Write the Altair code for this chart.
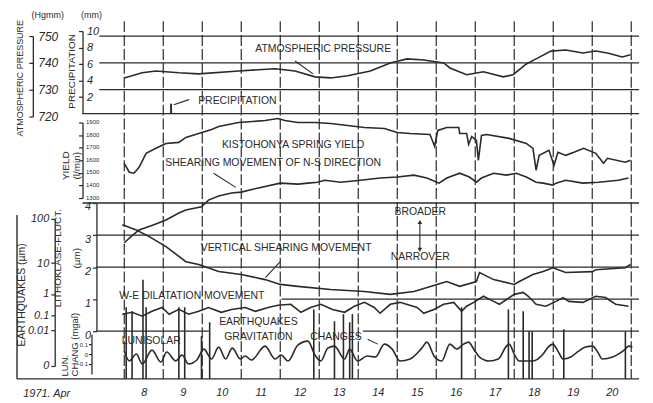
import altair as alt
import pandas as pd

# ---------------- data ----------------
press_day = [8.0, 8.46, 8.81, 9.40, 9.91, 10.93, 11.87, 12.38, 12.89, 13.29, 13.73, 14.31, 14.82, 15.25, 15.68,
             16.19, 16.35, 16.78, 17.21, 17.72, 17.97, 18.31, 18.56, 18.94, 19.32, 19.76, 20.09, 20.39, 20.77, 20.98]
press_val = [734.4, 736.3, 737.0, 736.3, 735.9, 737.0, 737.8, 737.0, 734.8, 734.4, 735.2, 737.0, 740.0, 741.5, 741.1,
             740.0, 738.1, 735.6, 736.7, 734.8, 735.6, 739.6, 741.5, 744.4, 744.8, 743.7, 744.4, 743.7, 742.2, 743.0]

precip_day = [9.2]
precip_val = [1.2]

yield_day = [8.00, 8.13, 8.25, 8.38, 8.56, 8.81, 9.07, 9.40, 9.58, 9.91, 10.24, 10.42, 10.93, 11.61, 11.94,
             12.12, 12.45, 12.89, 13.29, 13.73, 14.16, 14.67, 15.00, 15.33, 15.84, 15.96, 16.04, 16.27, 16.58, 16.60,
             16.78, 16.83, 16.91, 17.03, 17.08, 17.16, 17.29, 17.87, 18.31, 18.48, 18.56, 18.64, 18.89, 19.02, 19.12,
             19.32, 19.53, 19.78, 20.09, 20.29, 20.39, 20.85, 20.98]
yield_val = [1576, 1505, 1497, 1544, 1655, 1695, 1734, 1742, 1782, 1813, 1845, 1868, 1900, 1916, 1932,
             1916, 1900, 1900, 1892, 1876, 1861, 1853, 1821, 1813, 1805, 1710, 1837, 1861, 1861, 1813,
             1813, 1726, 1789, 1758, 1600, 1797, 1805, 1774, 1734, 1695, 1521, 1639, 1679, 1560, 1663,
             1639, 1663, 1695, 1655, 1576, 1616, 1584, 1600]

ns_day = [8.00, 8.20, 8.38, 8.76, 9.07, 9.40, 9.58, 9.98, 10.16, 10.42, 10.75, 11.00, 11.44, 12.00, 12.45,
          12.71, 12.96, 13.14, 13.55, 14.06, 14.56, 15.00, 15.43, 15.76, 16.07, 16.27, 16.60, 16.85, 17.03, 17.16,
          17.47, 17.80, 18.05, 18.31, 18.56, 18.74, 18.99, 19.07, 19.32, 19.76, 20.16, 20.67, 20.93]
ns_val = [2.76, 2.98, 3.16, 3.32, 3.47, 3.69, 3.78, 3.88, 4.09, 4.22, 4.31, 4.34, 4.47, 4.62, 4.59,
          4.62, 4.65, 4.71, 4.65, 4.71, 4.78, 4.81, 4.87, 4.78, 4.62, 4.78, 4.93, 4.81, 4.65, 4.78,
          4.93, 4.87, 4.93, 4.81, 4.65, 4.62, 4.56, 4.62, 4.71, 4.62, 4.65, 4.71, 4.78]

vs_day = [7.95, 8.31, 8.64, 9.07, 9.58, 9.91, 10.42, 11.00, 11.61, 12.00, 12.45, 13.29, 14.16, 14.82, 15.43,
          16.02, 16.27, 16.60, 17.03, 17.11, 17.47, 18.00, 18.13, 18.48, 18.74, 18.99, 19.32, 20.01, 20.09, 20.85, 20.98]
vs_val = [3.32, 3.16, 2.95, 2.64, 2.17, 2.08, 1.86, 1.77, 1.61, 1.46, 1.40, 1.30, 1.24, 1.15, 1.24,
          1.46, 1.55, 1.40, 1.55, 1.83, 1.61, 1.46, 1.55, 1.77, 1.86, 1.98, 1.83, 1.86, 1.92, 1.98, 2.08]

we_day = [7.95, 8.20, 8.46, 8.71, 8.97, 9.15, 9.40, 9.65, 9.91, 10.16, 10.49, 10.75, 11.10, 11.36, 11.69,
          11.94, 12.27, 12.53, 12.78, 13.04, 13.34, 13.65, 13.90, 14.16, 14.41, 14.56, 14.82, 15.07, 15.51, 15.68,
          15.94, 16.19, 16.45, 16.65, 16.78, 16.96, 17.21, 17.47, 17.62, 17.80, 18.00, 18.23, 18.36, 18.56, 18.81,
          19.07, 19.25, 19.40, 19.76, 20.09, 20.34, 20.60, 20.93]
we_val = [0.53, 0.59, 0.47, 0.62, 0.74, 0.53, 0.68, 0.53, 0.62, 0.74, 0.59, 0.68, 0.74, 0.62, 0.74,
          0.81, 0.84, 0.59, 0.74, 0.84, 0.68, 0.59, 0.78, 0.90, 0.74, 0.56, 0.84, 0.90, 0.74, 0.56,
          0.68, 0.84, 0.90, 0.62, 0.78, 0.90, 1.09, 0.93, 0.84, 0.99, 1.15, 1.21, 1.09, 0.84, 0.78,
          0.93, 1.05, 0.93, 0.90, 1.09, 1.05, 0.84, 0.78]

tide_day = [8.00, 8.13, 8.31, 8.46, 8.71, 8.94, 9.09, 9.32, 9.48, 9.65, 9.86, 10.04, 10.24, 10.42, 10.60,
            10.77, 10.98, 11.10, 11.26, 11.61, 11.87, 12.02, 12.20, 12.45, 12.71, 12.89, 13.04, 13.22, 13.39, 13.65,
            13.78, 13.98, 14.23, 14.44, 14.67, 14.87, 15.07, 15.33, 15.63, 15.76, 15.96, 16.14, 16.35, 16.53, 16.70,
            16.83, 16.96, 17.11, 17.36, 17.59, 17.80, 17.87, 18.00, 18.13, 18.48, 18.74, 18.87, 18.99, 19.12, 19.25,
            19.45, 19.65, 19.83, 20.01, 20.14, 20.26, 20.52, 20.67, 20.85, 20.93, 21.03]
tide_val = [0.03, -0.07, 0.00, -0.10, 0.04, -0.08, 0.02, -0.07, -0.01, -0.10, -0.06, 0.05, -0.05, 0.07, -0.05,
            0.06, -0.05, -0.02, -0.06, 0.08, -0.05, -0.01, -0.07, 0.09, 0.13, -0.01, -0.07, 0.06, 0.08, -0.05,
            0.05, -0.07, -0.02, -0.03, 0.10, 0.05, -0.07, -0.05, 0.06, 0.12, -0.03, -0.07, 0.10, 0.05, 0.10,
            0.12, 0.05, -0.03, -0.07, -0.05, 0.08, 0.10, 0.00, -0.07, -0.07, 0.00, 0.07, 0.10, 0.03, -0.05,
            -0.03, 0.03, 0.07, 0.08, 0.02, -0.05, -0.03, 0.00, 0.05, 0.08, 0.07]

eq_day = [8.05, 8.20, 8.48, 8.56, 9.40, 9.55, 9.98, 10.19, 12.86, 13.39, 13.62, 13.78, 13.85,
          16.65, 17.85, 18.23, 18.38, 18.46, 19.27, 20.85]
eq_val = [0.27, 0.17, 3.2, 0.27, 0.27, 0.27, 0.0034, 0.040, 0.21, 0.046, 0.12, 0.040, 0.12,
          0.27, 0.21, 0.17, 0.009, 0.009, 0.013, 0.009]

day_lines = list(range(8, 22))
day_labels = [d + 0.5 for d in range(8, 21)]

press_ticks = [720, 730, 740, 750]
precip_ticks = [2, 4, 6, 8, 10]
yield_ticks = [1300, 1400, 1500, 1600, 1700, 1800, 1900]
litho_ticks = [0, 1, 2, 3, 4]
tide_ticks = [-0.1, 0, 0.1]
eq_ticks = [0, 0.01, 0.1, 1, 10, 100]

# ---------------- style ----------------
FONT = "Liberation Sans"
INK = "#2a2a2a"
LW = 1.6
GW = 1.3
TS = 10.5

xs = alt.Scale(domain=[6.93, 21.2], nice=False, zero=False)
xaxis = alt.Axis(values=day_labels, labelExpr="floor(datum.value)", ticks=False, domain=False,
                 grid=False, title=None, labelFont=FONT, labelFontSize=11, labelFontStyle="italic",
                 labelColor=INK, labelPadding=8)


def X(f="day"):
    return alt.X(f + ":Q", scale=xs, axis=xaxis)


def yaxis(**kw):
    base = dict(orient="left", grid=False, domainColor=INK, tickColor=INK, labelColor=INK,
                titleColor=INK, labelFont=FONT, titleFont=FONT, titleFontWeight="normal",
                labelFlush=False, labelOverlap=False, tickSize=4, domainWidth=1.3, tickWidth=1.2,
                titleAngle=270, titleBaseline="middle")
    base.update(kw)
    return alt.Axis(**base)


def df(**cols):
    return pd.DataFrame(cols)


# ---- pressure panel ----
ps = alt.Scale(domain=[720, 750], range=[96, 15], nice=False, zero=False)
pax = yaxis(offset=50, values=press_ticks, labelAlign="left", labelPadding=-9, labelFontSize=12,
            labelFontStyle="italic", title="ATMOSPHERIC PRESSURE", titleX=-13, titleY=57, titleFontSize=9)
PY = alt.Y("v:Q", scale=ps, axis=pax)
press = alt.layer(
    alt.Chart(df(x1=[7.36] * 3, x2=[21.2] * 3, v=[730, 740, 750])).mark_rule(color=INK, strokeWidth=GW)
    .encode(x=X("x1"), x2="x2:Q", y=PY),
    alt.Chart(df(day=press_day, v=press_val)).mark_line(color=INK, strokeWidth=LW).encode(x=X(), y=PY),
    alt.Chart(df(day=[12.38], d2=[12.84], v=[740.7], v2=[735.9])).mark_rule(color=INK, strokeWidth=1.1)
    .encode(x=X(), x2="d2:Q", y=PY, y2="v2:Q"),
    alt.Chart(df(day=[13.1], v=[745.2], t=["ATMOSPHERIC PRESSURE"])).mark_text(font=FONT, fontSize=TS, color=INK)
    .encode(x=X(), y=PY, text="t:N"),
)

# ---- precipitation ----
rs = alt.Scale(domain=[0, 10], range=[93, 10], nice=False, zero=False)
rax = yaxis(offset=0, values=precip_ticks, labelAlign="left", labelPadding=-8, labelFontSize=11,
            labelFontStyle="italic", title="PRECIPITATION", titleX=-11, titleY=50, titleFontSize=10)
RY = alt.Y("v:Q", scale=rs, axis=rax)
precip = alt.layer(
    alt.Chart(df(x1=[6.93], x2=[21.2], v=[0])).mark_rule(color=INK, strokeWidth=GW)
    .encode(x=X("x1"), x2="x2:Q", y=RY),
    alt.Chart(df(day=precip_day, v=precip_val)).mark_rule(color=INK, strokeWidth=2)
    .encode(x=X(), y=RY, y2=alt.datum(0)),
    alt.Chart(df(day=[9.27], d2=[9.66], v=[1.08], v2=[1.69])).mark_rule(color=INK, strokeWidth=1.1)
    .encode(x=X(), x2="d2:Q", y=RY, y2="v2:Q"),
    alt.Chart(df(day=[10.9], v=[1.57], t=["PRECIPITATION"])).mark_text(font=FONT, fontSize=TS, color=INK)
    .encode(x=X(), y=RY, text="t:N"),
)

# ---- spring yield ----
ys = alt.Scale(domain=[1300, 1900], range=[178, 102], nice=False, zero=False)
yax = yaxis(offset=0, values=yield_ticks, format="d", labelAlign="left", labelPadding=-7, labelFontSize=6,
            labelOffset=-1,
            title=["YIELD", "(l/min)"], titleX=-17, titleY=145, titleFontSize=10, titleLineHeight=11)
YY = alt.Y("v:Q", scale=ys, axis=yax)
yld = alt.layer(
    alt.Chart(df(day=yield_day, v=yield_val)).mark_line(color=INK, strokeWidth=LW).encode(x=X(), y=YY),
    alt.Chart(df(day=[10.29], d2=[10.86], v=[1497], v2=[1385])).mark_rule(color=INK, strokeWidth=1.1)
    .encode(x=X(), x2="d2:Q", y=YY, y2="v2:Q"),
    alt.Chart(df(day=[12.33, 11.82], v=[1718, 1576],
                 t=["KISTOHONYA SPRING YIELD", "SHEARING MOVEMENT OF N-S DIRECTION"]))
    .mark_text(font=FONT, fontSize=TS, color=INK).encode(x=X(), y=YY, text="t:N"),
)

# ---- lithoclase fluctuations ----
ls = alt.Scale(domain=[0, 4], range=[312, 183], nice=False, zero=False)
lax = yaxis(offset=-14, values=litho_ticks, labelFontSize=11, labelFontStyle="italic", labelPadding=2,
            labelOffset=4,
            title=["LITHOKLASE-FLUCT.", "(µm)"], titleX=-39, titleY=238, titleFontSize=10, titleLineHeight=19)
LY = alt.Y("v:Q", scale=ls, axis=lax)
litho_curves = pd.concat([
    df(day=ns_day, v=ns_val, s=["ns"] * len(ns_day)),
    df(day=vs_day, v=vs_val, s=["vs"] * len(vs_day)),
    df(day=we_day, v=we_val, s=["we"] * len(we_day)),
])
litho = alt.layer(
    alt.Chart(df(x1=[6.93, 7.29, 7.29, 12.03, 7.29, 14.12], x2=[21.2, 21.2, 21.2, 21.2, 10.17, 21.2],
                 v=[4, 3, 2, 1, 0, 0])).mark_rule(color=INK, strokeWidth=GW)
    .encode(x=X("x1"), x2="x2:Q", y=LY),
    alt.Chart(litho_curves).mark_line(color=INK, strokeWidth=LW).encode(x=X(), y=LY, detail="s:N"),
    alt.Chart(df(day=[15.58, 11.62], d2=[15.58, 12.0], v=[3.41, 1.67], v2=[2.54, 2.17]))
    .mark_rule(color=INK, strokeWidth=1.1).encode(x=X(), x2="d2:Q", y=LY, y2="v2:Q"),
    alt.Chart(df(day=[15.58], v=[3.41])).mark_point(shape="triangle-up", filled=True, size=22, color=INK, opacity=1)
    .encode(x=X(), y=LY),
    alt.Chart(df(day=[15.58], v=[2.54])).mark_point(shape="triangle-down", filled=True, size=22, color=INK, opacity=1)
    .encode(x=X(), y=LY),
    alt.Chart(df(day=[15.59, 15.59, 12.15, 9.73], v=[3.72, 2.33, 2.60, 1.09],
                 t=["BROADER", "NARROVER", "VERTICAL SHEARING MOVEMENT", "W-E DILATATION MOVEMENT"]))
    .mark_text(font=FONT, fontSize=TS, color=INK).encode(x=X(), y=LY, text="t:N"),
)

# ---- lunisolar gravitation changes ----
ts = alt.Scale(domain=[-0.2, 0.2], range=[355, 315], nice=False, zero=False)
tax = yaxis(offset=-9, values=tide_ticks, labelFontSize=6, labelPadding=1, tickSize=3, format="~g",
            title=["LUN.", "CHANG (mgal)"], titleAlign="left", titleX=-27, titleY=357,
            titleFontSize=9.5, titleLineHeight=10)
TY = alt.Y("v:Q", scale=ts, axis=tax)
tide = alt.layer(
    alt.Chart(df(day=tide_day, v=tide_val)).mark_line(color=INK, strokeWidth=LW, interpolate="monotone")
    .encode(x=X(), y=TY),
    alt.Chart(df(day=[14.24], d2=[14.5], v=[0.15], v2=[0.10])).mark_rule(color=INK, strokeWidth=1.1)
    .encode(x=X(), x2="d2:Q", y=TY, y2="v2:Q"),
    alt.Chart(df(day=[8.69, 11.44, 11.44, 13.43], v=[0.13, 0.32, 0.17, 0.17],
                 t=["LUNISOLAR", "EARTHQUAKES", "GRAVITATION", "CHANGES"]))
    .mark_text(font=FONT, fontSize=TS, color=INK).encode(x=X(), y=TY, text="t:N"),
)

# ---- earthquakes ----
es = alt.Scale(type="pow", exponent=0.155, domain=[0, 100], range=[347, 199], nice=False, zero=False)
eax = yaxis(offset=28, values=eq_ticks, labelExpr="format(datum.value, '.2~f')", labelFontSize=11,
            labelFontStyle="italic", labelPadding=2,
            title="EARTHQUAKES (µm)", titleX=-33, titleY=275, titleFontSize=10.5)
EY = alt.Y("v:Q", scale=es, axis=eax)
eq = alt.layer(
    alt.Chart(df(day=eq_day, v=eq_val)).mark_rule(color=INK, strokeWidth=1.6)
    .encode(x=X(), y=EY, y2=alt.value("height")),
)

# ---- day dividers, frame and outer labels ----
days = alt.Chart(df(day=day_lines)).mark_rule(color=INK, strokeWidth=1.2, strokeDash=[11, 3]).encode(x=X())
frame = alt.layer(
    alt.Chart(df(day=[5.25], d2=[21.2])).mark_rule(color=INK, strokeWidth=1.4)
    .encode(x=X(), x2="d2:Q", y=alt.value("height")),
    alt.Chart(df(day=[5.25])).mark_rule(color=INK, strokeWidth=1.4)
    .encode(x=X(), y=alt.value(195), y2=alt.value("height")),
)
outer = alt.layer(
    alt.Chart(df(t=["(Hgmm)"])).mark_text(font=FONT, fontSize=9, color=INK)
    .encode(x=alt.value(-35), y=alt.value(-6), text="t:N"),
    alt.Chart(df(t=["(mm)"])).mark_text(font=FONT, fontSize=9, color=INK)
    .encode(x=alt.value(9), y=alt.value(-6), text="t:N"),
    alt.Chart(df(t=["1971.  Apr"])).mark_text(font=FONT, fontSize=11, fontStyle="italic", color=INK)
    .encode(x=alt.value(-36), y=alt.value(375), text="t:N"),
)

chart = alt.layer(days, press, precip, yld, litho, tide, eq, frame, outer).resolve_scale(
    y="independent"
).properties(
    width=560, height=360, autosize="none",
    padding={"left": 75, "top": 12, "right": 6, "bottom": 21},
    background="white",
).configure_view(stroke=None)

chart.save("out.html", embed_options={"renderer": "svg", "actions": False})
